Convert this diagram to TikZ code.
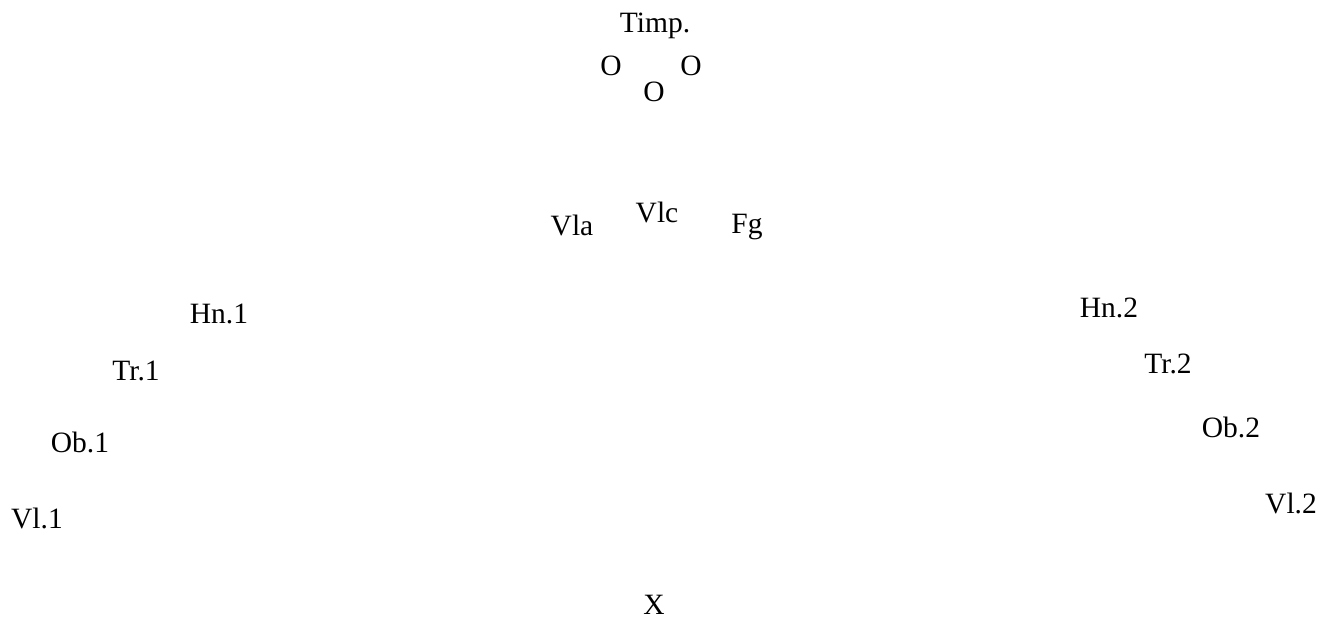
\documentclass[tikz,border=0pt]{standalone}
\usepackage{fontspec}
\setmainfont{Liberation Serif}
\begin{document}
\begin{tikzpicture}[x=1pt,y=-1pt,
  lbl/.style={anchor=base,inner sep=0pt,font=\fontsize{29.5}{32}\selectfont}]
\useasboundingbox (0,0) rectangle (1335,618);
\node[lbl] (timp) at (655,33) {Timp.};
\node[lbl] (o1) at (611,75) {O};
\node[lbl] (o2) at (654,101) {O};
\node[lbl] (o3) at (691,75) {O};
\node[lbl] (vla) at (572,235) {Vla};
\node[lbl] (vlc) at (657,222) {Vlc};
\node[lbl] (fg) at (747,233) {Fg};
\node[lbl] (hn1) at (219,323) {Hn.1};
\node[lbl] (hn2) at (1109,317) {Hn.2};
\node[lbl] (tr1) at (136,380) {Tr.1};
\node[lbl] (tr2) at (1168,373) {Tr.2};
\node[lbl] (ob1) at (80,452) {Ob.1};
\node[lbl] (ob2) at (1231,437) {Ob.2};
\node[lbl] (vl1) at (37,528) {Vl.1};
\node[lbl] (vl2) at (1291,513) {Vl.2};
\node[lbl] (x) at (654,614) {X};
\end{tikzpicture}
\end{document}
